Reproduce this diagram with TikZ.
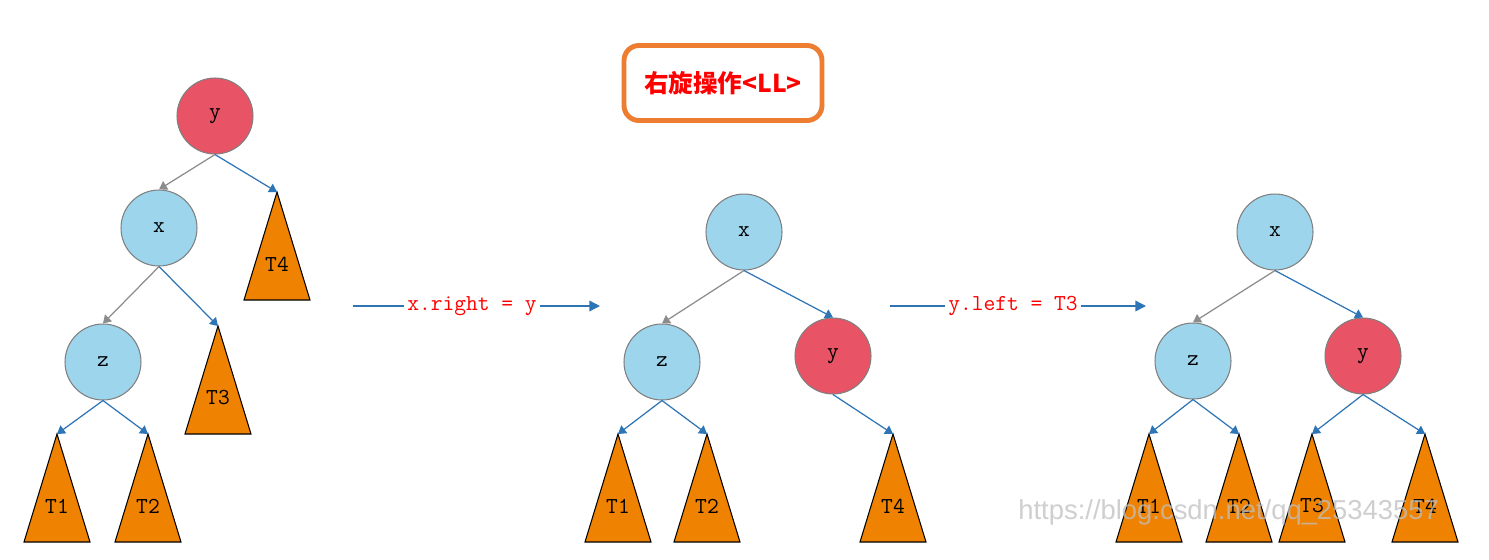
\documentclass[tikz,border=0pt]{standalone}
\usepackage{fontspec}
\newfontfamily\cjk{Noto Sans CJK SC}
\newfontfamily\wmfont{Liberation Sans}
\usetikzlibrary{arrows.meta}
\definecolor{nodeblue}{HTML}{9DD5ED}
\definecolor{nodered}{HTML}{E85466}
\definecolor{treeorange}{HTML}{EF8200}
\definecolor{linkblue}{HTML}{2E75B6}
\definecolor{linkgray}{HTML}{8C8C8C}
\definecolor{titleorange}{HTML}{ED7D31}
\newcommand\mysubtree[4]{%
  \coordinate (#1) at (#2,#3);
  \draw[subtri] (#1) -- ++(-33,108) -- ++(66,0) -- cycle;
  \path (#1) ++(0,72) node[sublab] (#1l) {#4};}
\begin{document}
\begin{tikzpicture}[x=0.02cm,y=-0.02cm,
  vnode/.style={circle, draw=black!50, line width=0.6pt, minimum size=1.52cm, inner sep=0pt, font=\ttfamily\fontsize{13}{13}\selectfont},
  bnode/.style={vnode, fill=nodeblue},
  rnode/.style={vnode, fill=nodered},
  subtri/.style={draw=black, line width=0.6pt, fill=treeorange},
  sublab/.style={inner sep=0pt, font=\ttfamily\fontsize{13}{13}\selectfont},
  blink/.style={draw=linkblue, line width=0.7pt, -{Triangle[length=4.5pt,width=5.5pt]}},
  glink/.style={draw=linkgray, line width=0.7pt, -{Triangle[length=4.5pt,width=5.5pt]}},
  opline/.style={draw=linkblue, line width=0.8pt},
  oplab/.style={text=red, inner sep=1.5pt, font=\ttfamily\fontsize{13}{13}\selectfont}
]
\useasboundingbox (0,0) rectangle (1489,559);
\fill[white] (0,0) rectangle (1489,559);

% title
\node[draw=titleorange, line width=2.8pt, rounded corners=8.5pt, minimum width=3.96cm, minimum height=1.5cm, text=red, font=\cjk\bfseries\fontsize{14}{14}\selectfont] (title) at (723,83) {右旋操作<LL>};

% ---------- tree 1
\node[rnode] (y1) at (215,116) {y};
\node[bnode] (x1) at (159,228) {x};
\node[bnode] (z1) at (103,362) {z};
\mysubtree{T4a}{277}{192}{T4}
\mysubtree{T3a}{218}{326}{T3}
\mysubtree{T1a}{57}{434}{T1}
\mysubtree{T2a}{148}{434}{T2}
\draw[glink] (y1.south) -- (x1.north);
\draw[blink] (y1.south) -- (T4a);
\draw[glink] (x1.south) -- (z1.north);
\draw[blink] (x1.south) -- (T3a);
\draw[blink] (z1.south) -- (T1a);
\draw[blink] (z1.south) -- (T2a);

% ---------- operation 1
\coordinate (o1s) at (353,306);
\coordinate (o1e) at (600,306);
\node[oplab] (op1) at (472,306) {x.right = y};
\draw[opline] (o1s) -- (op1.west);
\draw[opline, -{Triangle[length=6pt,width=6pt]}] (op1.east) -- (o1e);

% ---------- tree 2
\node[bnode] (x2) at (744,232) {x};
\node[bnode] (z2) at (662,362) {z};
\node[rnode] (y2) at (833,356) {y};
\mysubtree{T1b}{618}{434}{T1}
\mysubtree{T2b}{707}{434}{T2}
\mysubtree{T4b}{893}{434}{T4}
\draw[glink] (x2.south) -- (z2.north);
\draw[blink] (x2.south) -- (y2.north);
\draw[blink] (z2.south) -- (T1b);
\draw[blink] (z2.south) -- (T2b);
\draw[blink] (y2.south) -- (T4b);

% ---------- operation 2
\coordinate (o2s) at (890,306);
\coordinate (o2e) at (1146,306);
\node[oplab] (op2) at (1013,306) {y.left = T3};
\draw[opline] (o2s) -- (op2.west);
\draw[opline, -{Triangle[length=6pt,width=6pt]}] (op2.east) -- (o2e);

% ---------- tree 3
\node[bnode] (x3) at (1275,232) {x};
\node[bnode] (z3) at (1193,361) {z};
\node[rnode] (y3) at (1363,356) {y};
\mysubtree{T1c}{1149}{434}{T1}
\mysubtree{T2c}{1239}{434}{T2}
\mysubtree{T3c}{1312}{434}{T3}
\mysubtree{T4c}{1425}{434}{T4}
\draw[glink] (x3.south) -- (z3.north);
\draw[blink] (x3.south) -- (y3.north);
\draw[blink] (z3.south) -- (T1c);
\draw[blink] (z3.south) -- (T2c);
\draw[blink] (y3.south) -- (T3c);
\draw[blink] (y3.south) -- (T4c);

% watermark
\node[anchor=west, inner sep=0pt, text=black!25, text opacity=0.75, font=\wmfont\fontsize{15.6}{15.6}\selectfont] (wm) at (1018,512) {https://blog.csdn.net/qq\_25343557};
\end{tikzpicture}
\end{document}
